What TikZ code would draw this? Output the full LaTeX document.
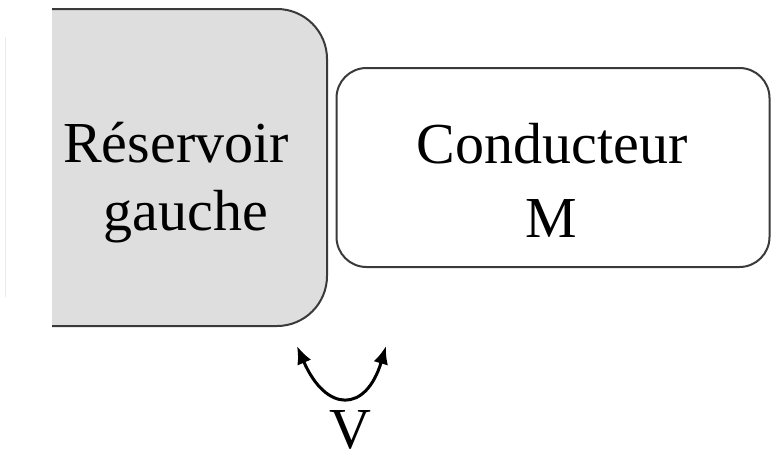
\documentclass[tikz,border=0pt]{standalone}
\usepackage{fontspec}
\setmainfont{Liberation Serif}
\usetikzlibrary{arrows.meta}
\definecolor{edge}{HTML}{3A3A3A}
\definecolor{resfill}{HTML}{DEDEDE}
\begin{document}
\begin{tikzpicture}[x=1pt,y=-1pt,
  lbl/.style={font=\fontsize{58}{68}\selectfont, inner sep=0pt, anchor=base, text=black},
  boxline/.style={draw=edge, line width=2pt},
  vtip/.tip={Latex[length=18pt,width=15pt]}]
\useasboundingbox (0,0) rectangle (778,464);
% faint left line
\draw[black!8, line width=1pt] (5,37) -- (5,297);
% left reservoir (gray)
\fill[resfill, rounded corners=50pt] (52,9) rectangle (327,326);
\fill[resfill] (52,9) rectangle (200,326);
\draw[boxline, rounded corners=50pt] (52,9) -- (327,9) -- (327,326) -- (52,326);
% conductor box
\node[boxline, rounded corners=30pt, minimum width=433pt, minimum height=199pt, inner sep=0pt] (cond) at (553,167.5) {};
% labels
\node[lbl] (res1) at (176,162) {Réservoir};
\node[lbl] (res2) at (186,230) {gauche};
\node[lbl] (con1) at (552,163) {Conducteur};
\node[lbl] (con2) at (551,237) {M};
\node[lbl] (vlab) at (350,448) {V};
% voltage arrow
\coordinate (vl) at (297,346);
\coordinate (vr) at (386,346);
\draw[black, line width=3pt, vtip-vtip] (vl) .. controls (326,413) and (366,413) .. (vr);
\end{tikzpicture}
\end{document}
